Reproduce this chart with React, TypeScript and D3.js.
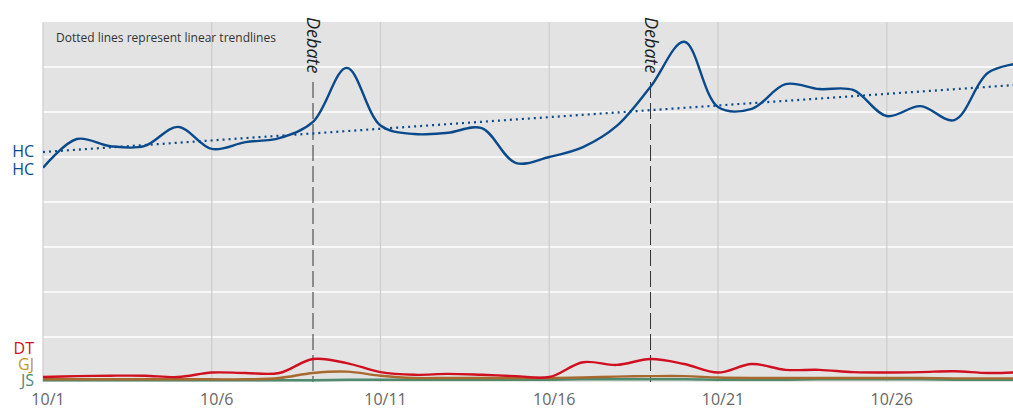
import React from "react";
import * as d3 from "d3";

// days of October shown on the chart
const dates = [
  "10/1", "10/2", "10/3", "10/4", "10/5", "10/6", "10/7", "10/8", "10/9", "10/10",
  "10/11", "10/12", "10/13", "10/14", "10/15", "10/16", "10/17", "10/18", "10/19", "10/20",
  "10/21", "10/22", "10/23", "10/24", "10/25", "10/26", "10/27", "10/28", "10/29", "10/30",
];
const tickLabels = ["10/1", "10/6", "10/11", "10/16", "10/21", "10/26"];
const debates = ["10/9", "10/19"];

const hcValues = [
  47.6, 54.0, 52.4, 52.4, 56.7, 51.8, 53.3, 54.2, 57.8, 69.8,
  57.0, 55.1, 55.4, 56.4, 48.7, 50.0, 52.2, 56.9, 65.6, 75.6,
  61.1, 60.7, 66.2, 65.1, 64.9, 59.1, 61.3, 58.2, 68.7, 70.9,
];
const dtValues = [
  1.1, 1.3, 1.4, 1.4, 1.1, 2.1, 2.0, 2.0, 5.1, 4.2,
  2.2, 1.6, 1.8, 1.6, 1.3, 1.1, 4.4, 3.8, 5.1, 4.0,
  2.1, 4.0, 2.7, 2.7, 2.2, 2.1, 2.2, 2.4, 2.0, 2.2,
];
const gjValues = [
  0.6, 0.6, 0.6, 0.6, 0.6, 0.6, 0.6, 0.9, 2.0, 2.3,
  1.4, 0.9, 0.9, 0.9, 0.9, 0.9, 1.0, 1.2, 1.3, 1.3,
  1.0, 0.9, 0.9, 0.9, 0.9, 0.9, 0.9, 0.8, 0.8, 0.8,
];
const jsValues = [
  0.4, 0.4, 0.4, 0.4, 0.4, 0.4, 0.4, 0.4, 0.4, 0.5,
  0.5, 0.5, 0.5, 0.5, 0.5, 0.5, 0.6, 0.6, 0.6, 0.6,
  0.5, 0.5, 0.5, 0.6, 0.6, 0.6, 0.6, 0.5, 0.5, 0.5,
];
// linear trendline for HC: value on first and last day
const hcTrend = [51.1, 66.1];

const series = [
  { key: "JS", values: jsValues, line: "#4f8a6c", label: "#4a8a6e" },
  { key: "GJ", values: gjValues, line: "#a8692f", label: "#c8961e" },
  { key: "DT", values: dtValues, line: "#cf1020", label: "#cf1020" },
  { key: "HC", values: hcValues, line: "#0b4a8a", label: "#0b4a8a" },
];

const W = 1013;
const H = 409;
const margin = { top: 22, right: 0, bottom: 27, left: 43 };
const FONT = "'Open Sans', 'DejaVu Sans', sans-serif";

export default function App() {
  const idx = (d: string) => dates.indexOf(d);
  const x = d3.scaleLinear().domain([0, 28.74]).range([margin.left, W - margin.right]);
  const y = d3.scaleLinear().domain([0, 80]).range([H - margin.bottom, margin.top]);

  const line = d3
    .line<number>()
    .x((_, i) => x(i))
    .y((v) => y(v))
    .curve(d3.curveCatmullRom.alpha(0.5));

  const trendLine = d3
    .line<number>()
    .x((_, i) => x(i * (dates.length - 1)))
    .y((v) => y(v));

  // left labels, pushed apart so they don't overlap
  const labels = [
    { text: "HC", color: "#0b4a8a", y: y(hcValues[0]) + 2 },
    { text: "HC", color: "#0b4a8a", y: y(hcTrend[0]) },
    { text: "JS", color: "#4a8a6e", y: y(jsValues[0]) + 1 },
    { text: "GJ", color: "#c8961e", y: y(gjValues[0]) },
    { text: "DT", color: "#cf1020", y: y(dtValues[0]) },
  ];
  labels.sort((a, b) => b.y - a.y);
  for (let i = 1; i < labels.length; i++) {
    labels[i].y = Math.min(labels[i].y, labels[i - 1].y - 16);
  }

  const gridY = d3.range(10, 80, 10);
  const [y0, y1] = y.range();

  return (
    <svg
      width={W}
      height={H}
      style={{ position: "absolute", left: 0, top: 0, fontFamily: FONT }}
    >
      <defs>
        <clipPath id="plot">
          <rect x={margin.left} y={margin.top} width={W - margin.left} height={y0 - y1} />
        </clipPath>
      </defs>
      <rect x={margin.left} y={margin.top} width={W - margin.left} height={y0 - y1} fill="#e3e3e3" />
      {gridY.map((g) => (
        <line key={g} x1={margin.left} x2={W} y1={y(g)} y2={y(g)} stroke="#fff" strokeWidth={1.5} />
      ))}
      {tickLabels.map((t) => (
        <g key={t}>
          <line x1={x(idx(t))} x2={x(idx(t))} y1={margin.top} y2={y0} stroke="#cdcdcd" strokeWidth={1.2} />
          <text x={x(idx(t)) + 5} y={405} textAnchor="middle" fontSize={16} fill="#666">
            {t}
          </text>
        </g>
      ))}
      <text x={56} y={42} fontSize={12} fill="#333">
        Dotted lines represent linear trendlines
      </text>
      {debates.map((d) => (
        <g key={d}>
          <line
            x1={x(idx(d))}
            x2={x(idx(d))}
            y1={82}
            y2={y0}
            stroke="#333"
            strokeWidth={1}
            strokeDasharray="16,5"
          />
          <text
            transform={`translate(${x(idx(d)) - 6},${17}) rotate(90)`}
            fontSize={18}
            fontStyle="italic"
            fill="#222"
          >
            Debate
          </text>
        </g>
      ))}
      <g clipPath="url(#plot)">
        {series.map((s) => (
          <path key={s.key} d={line(s.values) || ""} fill="none" stroke={s.line} strokeWidth={2.4} />
        ))}
        <path
          d={trendLine(hcTrend) || ""}
          fill="none"
          stroke="#0b4a8a"
          strokeWidth={2.2}
          strokeDasharray="2,4"
        />
      </g>
      {labels.map((l, i) => (
        <text
          key={i}
          x={34}
          y={l.y + 1}
          textAnchor="end"
          dominantBaseline="middle"
          fontSize={16}
          fill={l.color}
        >
          {l.text}
        </text>
      ))}
    </svg>
  );
}
